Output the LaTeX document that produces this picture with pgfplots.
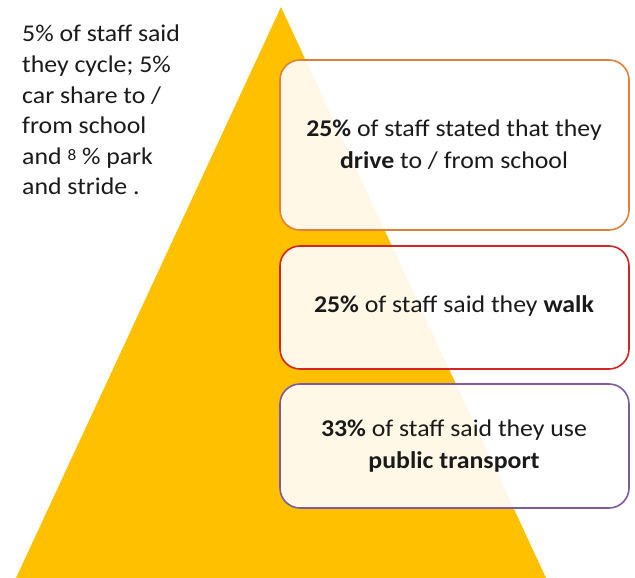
\documentclass[border=0pt]{standalone}
\usepackage{pgfplots}
\pgfplotsset{compat=1.18}
\usepackage{fontspec}
\setmainfont[FakeStretch=1.075]{Carlito}
\definecolor{tri}{HTML}{FFC000}
\definecolor{bOrange}{HTML}{E0803A}
\definecolor{bRed}{HTML}{D42424}
\definecolor{bPurple}{HTML}{7E5A9E}
\definecolor{txt}{HTML}{1A1A1A}
\begin{document}
\begin{tikzpicture}
\begin{axis}[
  width=635pt, height=578pt, scale only axis,
  xmin=0, xmax=635, ymin=0, ymax=578,
  y dir=reverse,
  hide axis, clip=false,
]
% triangle
\addplot[draw=none, fill=tri] coordinates {(16,578) (281,7) (546,578)} --cycle;
% boxes
\addplot[draw=bOrange, line width=1.6pt, fill=white, fill opacity=0.9, rounded corners=20pt]
  coordinates {(280,60) (629,60) (629,230) (280,230)} --cycle;
\addplot[draw=bRed, line width=1.6pt, fill=white, fill opacity=0.9, rounded corners=20pt]
  coordinates {(280,246) (629,246) (629,369) (280,369)} --cycle;
\addplot[draw=bPurple, line width=1.6pt, fill=white, fill opacity=0.9, rounded corners=20pt]
  coordinates {(280,384) (629,384) (629,508) (280,508)} --cycle;
% texts
\node[align=center, text=txt, font=\fontsize{24}{32}\selectfont] at (axis cs:454,145)
  {\textbf{25\%} of staff stated that they\\\textbf{drive} to / from school};
\node[align=center, text=txt, font=\fontsize{24}{32}\selectfont] at (axis cs:454,306)
  {\textbf{25\%} of staff said they \textbf{walk}};
\node[align=center, text=txt, font=\fontsize{24}{32}\selectfont] at (axis cs:454,446)
  {\textbf{33\%} of staff said they use\\\textbf{public transport}};
\node[align=left, anchor=north west, text=txt, font=\fontsize{24}{30.6}\selectfont, inner sep=0pt] at (axis cs:22,25)
  {5\% of staff said\\they cycle; 5\%\\car share to /\\from school\\and \raisebox{0.35ex}{\fontsize{16}{16}\selectfont 8} \% park\\and stride .};
\end{axis}
\pgfresetboundingbox
\path (current axis.south west) rectangle (current axis.north east);
\end{tikzpicture}
\end{document}
